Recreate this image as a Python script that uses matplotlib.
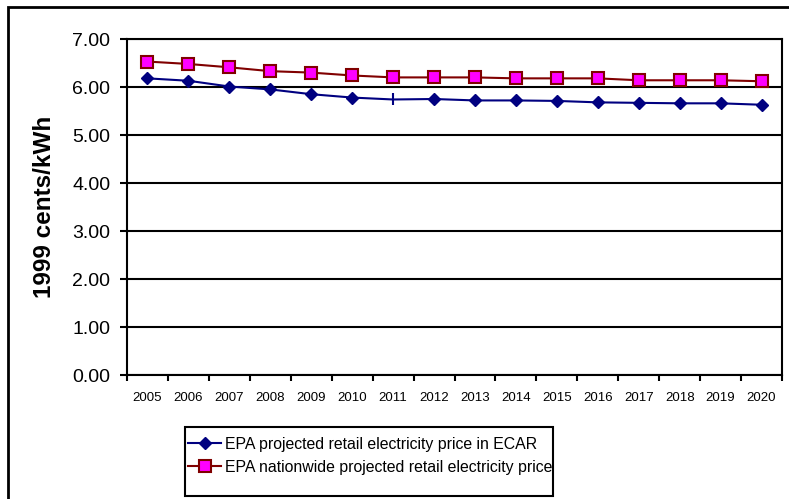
import numpy as np
import matplotlib
matplotlib.use("Agg")
import matplotlib.pyplot as plt
from matplotlib.patches import Rectangle

plt.rcParams['font.family'] = ['Liberation Sans', 'DejaVu Sans']

# ------------------- Datos -------------------
years = [str(y) for y in range(2005, 2021)]
ecar = [6.18, 6.13, 6.01, 5.95, 5.85, 5.78, 5.74, 5.75,
        5.72, 5.72, 5.71, 5.68, 5.67, 5.66, 5.66, 5.63]
nation = [6.53, 6.48, 6.41, 6.33, 6.30, 6.24, 6.20, 6.20,
          6.20, 6.18, 6.18, 6.18, 6.14, 6.14, 6.14, 6.12]
yticks = [0, 1, 2, 3, 4, 5, 6, 7]
odd_point = 6  # 2011 se dibuja con otra marca

lab_ecar = "EPA projected retail electricity price in ECAR"
lab_nation = "EPA nationwide projected retail electricity price"

W, H = 789, 499

# ------------------- Figura -------------------
fig = plt.figure(figsize=(W / 100, H / 100), dpi=100)
# marco exterior (solo se ven izquierda y arriba)
fig.patches.append(Rectangle((8 / W, -0.05), 1.1, 1 - 7 / H + 0.05,
                             transform=fig.transFigure, fill=False,
                             edgecolor="black", linewidth=2, zorder=0))
ax = fig.add_axes([127 / W, 1 - 375 / H, 655 / W, 336 / H])

x = np.arange(len(years))
normal = [i for i in range(len(years)) if i != odd_point]

ax.plot(x, ecar, color="#000080", linewidth=1.5, marker="D", markersize=6,
        markevery=normal, markerfacecolor="#000080", markeredgecolor="#000080",
        label=lab_ecar, zorder=3)
ax.plot(x[odd_point], ecar[odd_point], linestyle="none", marker="|",
        markersize=8, color="#000080", markeredgewidth=1.5, zorder=3)
ax.plot(x, nation, color="#800000", linewidth=1.5, marker="s", markersize=8,
        markerfacecolor="#FF00FF", markeredgecolor="#800000",
        markeredgewidth=1.5, label=lab_nation, zorder=3)

ax.set_xlim(-0.5, len(years) - 0.5)
ax.set_ylim(0, 7)
ax.set_yticks(yticks)
ax.set_yticklabels([f"{v:.2f}" for v in yticks], fontsize=14)
ax.set_xticks(x)
ax.set_xticklabels(years, fontsize=9.5)
ax.set_xticks(np.arange(-0.5, len(years)), minor=True)
ax.tick_params(axis="x", which="major", length=0, pad=12)
ax.tick_params(axis="x", which="minor", length=4, width=1.5, direction="out")
ax.tick_params(axis="y", length=5, width=1.5, direction="out", pad=7)
ax.grid(True, axis="y", color="black", linewidth=1.5)
ax.set_axisbelow(True)
for s in ax.spines.values():
    s.set_linewidth(1.5)

fig.text(45 / W, 1 - 207 / H, "1999 cents/kWh", rotation=90, ha="center",
         va="center", fontsize=17.5, fontweight="bold")

# leyenda con marco propio
fig.patches.append(Rectangle((185 / W, 1 - 496 / H), 368 / W, 69 / H,
                             transform=fig.transFigure, fill=False,
                             edgecolor="black", linewidth=1.5))
leg = fig.legend(loc="upper left", bbox_to_anchor=(188 / W, 1 - 437 / H),
                 fontsize=11.4, frameon=False, handlelength=2.1,
                 borderpad=0.0, borderaxespad=0.0, labelspacing=0.5,
                 handletextpad=0.25)

fig.savefig("out.png", dpi=100)
